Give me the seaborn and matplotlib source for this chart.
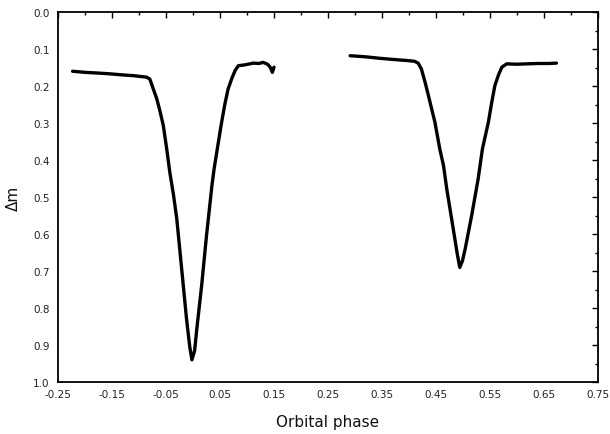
import matplotlib
matplotlib.use("Agg")
import matplotlib.pyplot as plt
from matplotlib.ticker import FixedLocator
import seaborn as sns
import pandas as pd

# Primary eclipse segment (phase, delta m)
primary_phase = [-0.223, -0.200, -0.175, -0.154, -0.130, -0.110, -0.086, -0.080,
                 -0.074, -0.067, -0.061, -0.055, -0.049, -0.043, -0.036, -0.030,
                 -0.021, -0.012, -0.006, -0.002, 0.003, 0.007, 0.016, 0.025,
                 0.035, 0.039, 0.046, 0.053, 0.059, 0.065, 0.072, 0.078, 0.084,
                 0.095, 0.112, 0.122, 0.130, 0.138, 0.143, 0.147, 0.150]
primary_dm = [0.159, 0.162, 0.164, 0.166, 0.169, 0.171, 0.175, 0.180,
              0.205, 0.234, 0.268, 0.306, 0.366, 0.432, 0.495, 0.559,
              0.694, 0.829, 0.905, 0.940, 0.915, 0.857, 0.739, 0.604,
              0.469, 0.424, 0.360, 0.297, 0.248, 0.207, 0.178, 0.157, 0.144,
              0.142, 0.137, 0.138, 0.135, 0.140, 0.148, 0.162, 0.148]

# Secondary eclipse segment (phase, delta m)
secondary_phase = [0.291, 0.320, 0.346, 0.370, 0.396, 0.410, 0.417, 0.423,
                   0.430, 0.436, 0.448, 0.457, 0.464, 0.470, 0.482, 0.489,
                   0.494, 0.499, 0.504, 0.516, 0.528, 0.536, 0.547, 0.553,
                   0.559, 0.566, 0.572, 0.581, 0.600, 0.618, 0.640, 0.660, 0.673]
secondary_dm = [0.117, 0.120, 0.124, 0.127, 0.130, 0.132, 0.137, 0.153,
                0.190, 0.225, 0.297, 0.369, 0.415, 0.478, 0.586, 0.650,
                0.690, 0.672, 0.640, 0.550, 0.451, 0.369, 0.297, 0.245,
                0.198, 0.168, 0.148, 0.139, 0.140, 0.139, 0.138, 0.138, 0.137]

x_ticks = [-0.25, -0.15, -0.05, 0.05, 0.15, 0.25, 0.35, 0.45, 0.55, 0.65, 0.75]
x_labels = ["-0.25", "-0.15", "-0.05", "0.05", "0.15", "0.25", "0.35",
            "0.45", "0.55", "0.65", "0.75"]
y_ticks = [0.0, 0.1, 0.2, 0.3, 0.4, 0.5, 0.6, 0.7, 0.8, 0.9, 1.0]

sns.set_style("white")
plt.rcParams['font.family'] = ['DejaVu Sans']

df = pd.concat([
    pd.DataFrame({"phase": primary_phase, "dm": primary_dm, "seg": "primary"}),
    pd.DataFrame({"phase": secondary_phase, "dm": secondary_dm, "seg": "secondary"}),
])

fig = plt.figure(figsize=(6.10, 4.35), dpi=100)
ax = fig.add_axes([0.0951, 0.1195, 0.8852, 0.8495])

sns.lineplot(data=df, x="phase", y="dm", units="seg", estimator=None,
             sort=False, color="black", linewidth=2.4, ax=ax)

ax.set_xlim(-0.25, 0.75)
ax.set_ylim(1.0, 0.0)
ax.xaxis.set_major_locator(FixedLocator(x_ticks))
ax.set_xticklabels(x_labels)
ax.xaxis.set_minor_locator(FixedLocator([-0.2 + 0.1 * i for i in range(10)]))
ax.yaxis.set_major_locator(FixedLocator(y_ticks))
ax.set_yticklabels([f"{v:.1f}" for v in y_ticks])
ax.yaxis.set_minor_locator(FixedLocator([0.05 + 0.1 * i for i in range(10)]))

ax.tick_params(which="both", direction="in", top=True, right=True,
               colors="black", labelsize=7.5, width=1.0)
ax.tick_params(which="major", length=4)
ax.tick_params(which="minor", length=2)
ax.tick_params(axis="x", pad=5)
ax.tick_params(axis="y", pad=6)
ax.tick_params(labelcolor="#222222")

for s in ax.spines.values():
    s.set_visible(True)
    s.set_color("black")
    s.set_linewidth(1.3)

ax.set_xlabel("Orbital phase", fontsize=11, labelpad=11, color="#111111")
ax.set_ylabel("Δm", fontsize=11, labelpad=9, color="#111111")

fig.savefig("out.png", dpi=100, facecolor="white")
